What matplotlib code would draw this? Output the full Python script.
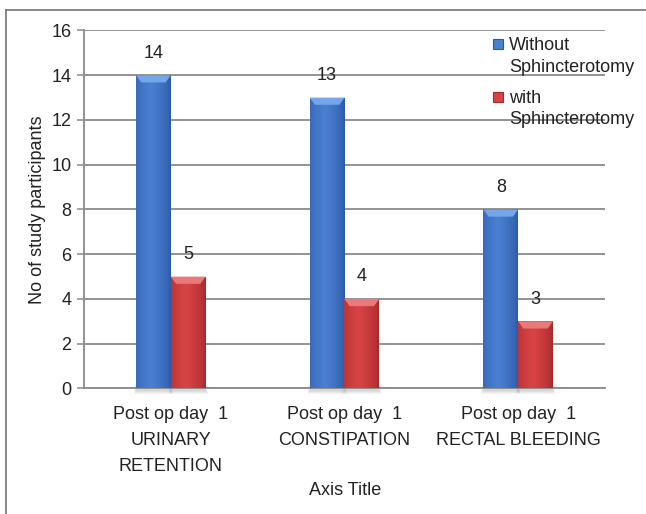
import matplotlib.pyplot as plt
import numpy as np
from matplotlib.patches import Polygon, Rectangle
from matplotlib.lines import Line2D
from matplotlib.colors import to_rgb

plt.rcParams['font.family'] = ['Liberation Sans', 'DejaVu Sans']
FONTSIZE = 13
GRID = '#8a8a8a'

categories = ['Post op day  1\nURINARY\nRETENTION',
              'Post op day  1\nCONSTIPATION',
              'Post op day  1\nRECTAL BLEEDING']
without_sph = [14, 13, 8]
with_sph = [5, 4, 3]
series_names = ['Without\nSphincterotomy', 'with\nSphincterotomy']

# (edge, centre, top bevel) shades for each series
blue = ('#2b58a6', '#4a80d2', '#74a6ea')
red = ('#a6282a', '#d84446', '#ea7a7a')


def shade(edge, mid, n=64):
    # dark edges, brighter just left of centre, like the old office 3-d bars
    t = np.linspace(0, 1, n)
    w = np.clip(1 - np.abs(t - 0.42) / 0.58, 0, 1) ** 0.6
    e, m = np.array(to_rgb(edge)), np.array(to_rgb(mid))
    return (e[None, :] * (1 - w[:, None]) + m[None, :] * w[:, None])[None, :, :]


fig = plt.figure(figsize=(6.46, 5.14), dpi=100)
ax = fig.add_axes([0.130, 0.2442, 0.8065, 0.6965])

x = np.arange(len(categories))
bw = 0.2
for vals, off, cols in [(without_sph, -bw / 2, blue), (with_sph, bw / 2, red)]:
    bars = ax.bar(x + off, vals, bw, color=cols[1], zorder=3, linewidth=0)
    for b, v in zip(bars, vals):
        x0, x1 = b.get_x(), b.get_x() + b.get_width()
        # soft shadow under the bar
        for k in range(4):
            ax.add_patch(Rectangle((x0 - 0.004 * k, -0.12 - 0.04 * k),
                                   x1 - x0 + 0.008 * k, 0.3,
                                   color='0.4', alpha=0.07, lw=0,
                                   zorder=2, clip_on=False))
        im = ax.imshow(shade(cols[0], cols[1]), extent=(x0, x1, 0, v),
                       aspect='auto', zorder=3.1, interpolation='bilinear')
        im.set_clip_path(b)
        dx, dy = 0.03, 0.32
        ax.add_patch(Polygon([(x0, v), (x1, v), (x1 - dx, v - dy), (x0 + dx, v - dy)],
                             closed=True, color=cols[2], lw=0, zorder=3.2))
        ax.annotate(str(v), (b.get_x() + b.get_width() / 2, v), xytext=(0, 16),
                    textcoords='offset points', ha='center', va='center',
                    fontsize=FONTSIZE, color='#222222')

ax.set_xlim(-0.5, 2.5)
ax.set_ylim(0, 16)
ax.set_yticks(range(0, 17, 2))
ax.set_xticks(x)
ax.set_xticklabels(categories, fontsize=FONTSIZE, linespacing=1.7, color='#222222')
ax.tick_params(axis='y', labelsize=FONTSIZE, colors=GRID, labelcolor='#222222',
               length=5, width=1.1, pad=4)
ax.tick_params(axis='x', length=0, pad=12.5)
ax.grid(axis='y', color=GRID, linewidth=1.3, zorder=1)
ax.set_axisbelow(True)
for s in ['top', 'right']:
    ax.spines[s].set_visible(False)
for s in ['left', 'bottom']:
    ax.spines[s].set_color(GRID)
    ax.spines[s].set_linewidth(1.3)

ax.set_ylabel('No of study participants', fontsize=FONTSIZE, color='#222222', labelpad=4)
fig.text(0.534, 0.046, 'Axis Title', ha='center', va='center',
         fontsize=FONTSIZE, color='#222222')

# legend drawn by hand so the swatch sits beside the first line
for name, cols, yc in [(series_names[0], blue, 0.914), (series_names[1], red, 0.811)]:
    sw = Rectangle((0.763, yc - 0.0095), 0.0155, 0.019, transform=fig.transFigure,
                   facecolor=cols[1], edgecolor=cols[0], lw=0.8)
    fig.add_artist(sw)
    fig.text(0.788, yc + 0.014, name, ha='left', va='top', fontsize=FONTSIZE,
             color='#222222', linespacing=1.35)

# outer frame: top and left edges only
fig.add_artist(Line2D([0.0093, 1.0], [0.9815, 0.9815], color='#7f7f7f', lw=1.3))
fig.add_artist(Line2D([0.0093, 0.0093], [0.0, 0.9815], color='#7f7f7f', lw=1.3))

fig.savefig('out.png', dpi=100)
